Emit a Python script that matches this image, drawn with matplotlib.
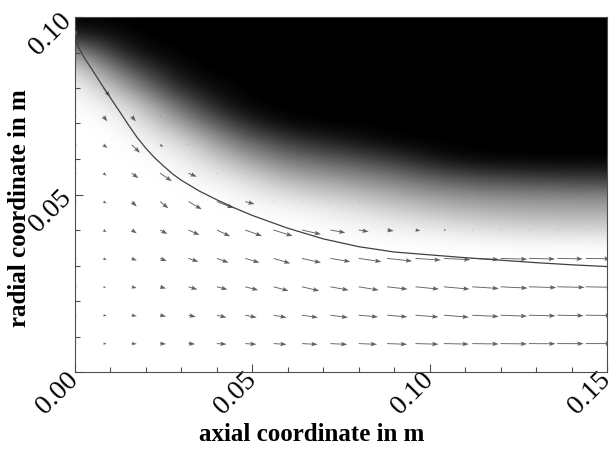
import matplotlib
matplotlib.use("agg")
import matplotlib.pyplot as plt
import numpy as np

nan = np.nan

# shading table: darkness (0 = white, 1 = black) sampled on a regular grid
shade_x = [0.0, 0.015, 0.03, 0.045, 0.06, 0.075, 0.09, 0.105, 0.12, 0.135, 0.15]
shade_y = [0.0, 0.005, 0.01, 0.015, 0.02, 0.025, 0.03, 0.035, 0.04, 0.045, 0.05,
           0.055, 0.06, 0.065, 0.07, 0.075, 0.08, 0.085, 0.09, 0.095, 0.1]
shade = [
    [0] * 11,  # 0.000
    [0] * 11,  # 0.005
    [0] * 11,  # 0.010
    [0] * 11,  # 0.015
    [0] * 11,  # 0.020
    [0] * 11,  # 0.025
    [0] * 11,  # 0.030
    [0] * 11,  # 0.035
    [0, 0, 0, 0, 0, 0.02, 0.04, 0.08, 0.13, 0.15, 0.16],          # 0.040
    [0, 0, 0, 0, 0.02, 0.07, 0.16, 0.25, 0.30, 0.32, 0.32],       # 0.045
    [0, 0, 0, 0.02, 0.13, 0.23, 0.33, 0.43, 0.47, 0.48, 0.49],    # 0.050
    [0, 0, 0, 0.10, 0.33, 0.42, 0.53, 0.68, 0.75, 0.79, 0.80],    # 0.055
    [0, 0, 0.03, 0.30, 0.55, 0.65, 0.79, 0.97, 1, 1, 1],          # 0.060
    [0, 0, 0.12, 0.53, 0.78, 0.90, 1, 1, 1, 1, 1],                # 0.065
    [0, 0.02, 0.35, 0.79, 1, 1, 1, 1, 1, 1, 1],                   # 0.070
    [0, 0.10, 0.61, 1, 1, 1, 1, 1, 1, 1, 1],                      # 0.075
    [0, 0.35, 0.89, 1, 1, 1, 1, 1, 1, 1, 1],                      # 0.080
    [0.08, 0.65, 1, 1, 1, 1, 1, 1, 1, 1, 1],                      # 0.085
    [0.35, 0.95, 1, 1, 1, 1, 1, 1, 1, 1, 1],                      # 0.090
    [0.85, 1, 1, 1, 1, 1, 1, 1, 1, 1, 1],                         # 0.095
    [1, 1, 1, 1, 1, 1, 1, 1, 1, 1, 1],                            # 0.100
]

# free surface line
surface_x = [0.0, 0.001, 0.0025, 0.005, 0.0075, 0.010, 0.0125, 0.015, 0.0175,
             0.020, 0.0225, 0.025, 0.0275, 0.030, 0.035, 0.040, 0.045, 0.050,
             0.060, 0.070, 0.080, 0.090, 0.100, 0.110, 0.120, 0.130, 0.140, 0.150]
surface_y = [0.0935, 0.0915, 0.0887, 0.0849, 0.0810, 0.0772, 0.0735, 0.0697,
             0.0661, 0.0630, 0.0603, 0.0580, 0.0558, 0.0540, 0.0510, 0.0485,
             0.0462, 0.0441, 0.0405, 0.0375, 0.0353, 0.0338, 0.0330, 0.0322,
             0.0315, 0.0308, 0.0302, 0.0297]

# velocity arrows (arbitrary units), rows = radial positions, cols = axial
vel_x = [0.0, 0.008, 0.016, 0.024, 0.032, 0.040, 0.048, 0.056, 0.064, 0.072,
         0.080, 0.088, 0.096, 0.104, 0.112, 0.120, 0.128, 0.136, 0.144]
vel_y = [0.008, 0.016, 0.024, 0.032, 0.040, 0.048, 0.056, 0.064, 0.072, 0.080,
         0.088, 0.096]
vel_u = [
    [2, 3.3, 5, 6, 6.7, 9.7, 11.3, 13, 15.7, 17, 18.3, 20, 23, 25, 26.5, 26.5, 26.5, 26.3, 26],
    [2, 3.3, 5, 6, 7.3, 9.7, 11.5, 13, 16, 17.7, 19.3, 20.3, 23, 25, 26.5, 26.5, 26.5, 26.3, 26],
    [2, 2.7, 5, 6, 9, 10.7, 13, 15, 17.3, 18.3, 20, 20.5, 23.5, 25.7, 26.7, 27, 27.3, 27.3, 27],
    [2, 3.3, 5, 6.7, 10, 11.7, 14.3, 16.7, 19, 20, 22.7, 25, 25.3, 26.5, 26.7, 26.7, 26, 25.5, 25],
    [2, 3.3, 5, 7.3, 11, 13.3, 16.7, 19, 19, 15, 10, 6.7, 5, 2.5, 1, 1, 1, 1, 1],
    [2, 3.3, 5, 8.3, 13.3, 16.7, 9.3, 1, 1, 1, 1, nan, nan, nan, nan, nan, nan, nan, nan],
    [2, 3.3, 6.7, 11.7, 8.3, 1, 1, nan, nan, nan, nan, nan, nan, nan, nan, nan, nan, nan, nan],
    [2, 4, 8.3, 3.3, 1, nan, nan, nan, nan, nan, nan, nan, nan, nan, nan, nan, nan, nan, nan],
    [2, 4, 4, 1, nan, nan, nan, nan, nan, nan, nan, nan, nan, nan, nan, nan, nan, nan, nan],
    [2, 7, 1, nan, nan, nan, nan, nan, nan, nan, nan, nan, nan, nan, nan, nan, nan, nan, nan],
    [2, 1, nan, nan, nan, nan, nan, nan, nan, nan, nan, nan, nan, nan, nan, nan, nan, nan, nan],
    [1.5, nan, nan, nan, nan, nan, nan, nan, nan, nan, nan, nan, nan, nan, nan, nan, nan, nan, nan],
]
vel_v = [
    [0, -0.3, -0.3, -0.4, -0.5, -0.6, -0.7, -0.8, -0.8, -0.8, -0.7, -0.7, -0.6, -0.5, -0.4, -0.3, -0.2, -0.1, 0],
    [0, -0.7, -1, -1.2, -1.7, -2.3, -2.3, -2.3, -2.3, -2.3, -1.7, -1.7, -1.8, -2, -1.3, -1, -0.7, -0.5, -0.3],
    [0, -1, -1.3, -1.7, -2.7, -2.7, -3.3, -4, -4, -3.3, -3.3, -2.3, -2.3, -2.3, -1.7, -1.3, -0.8, -0.6, -0.5],
    [0, -1.7, -2.3, -2.7, -3.3, -4.3, -4.3, -5, -4.3, -3.3, -3.3, -2.7, -1.7, -1.3, -1, -0.8, -0.6, -0.5, -0.4],
    [0, -2.3, -3.3, -4, -5, -6.3, -6, -6, -4.3, -2.7, -1.7, -1, -0.7, -0.3, 0, 0, 0, 0, 0],
    [0, -1.7, -5, -6.7, -7.7, -6.5, -2.5, -0.3, 0, 0, 0, nan, nan, nan, nan, nan, nan, nan, nan],
    [0, -2.5, -5, -8, -3.5, -0.3, 0, nan, nan, nan, nan, nan, nan, nan, nan, nan, nan, nan, nan],
    [0, -3.3, -8, -2, 0, nan, nan, nan, nan, nan, nan, nan, nan, nan, nan, nan, nan, nan, nan],
    [0, -5, -5, -0.5, nan, nan, nan, nan, nan, nan, nan, nan, nan, nan, nan, nan, nan, nan, nan],
    [0, -9, -0.5, nan, nan, nan, nan, nan, nan, nan, nan, nan, nan, nan, nan, nan, nan, nan, nan],
    [0, -0.5, nan, nan, nan, nan, nan, nan, nan, nan, nan, nan, nan, nan, nan, nan, nan, nan, nan],
    [-5, nan, nan, nan, nan, nan, nan, nan, nan, nan, nan, nan, nan, nan, nan, nan, nan, nan, nan],
]

x_ticks = [0.0, 0.05, 0.10, 0.15]
y_ticks = [0.05, 0.10]   # 0.00 is shared with the axial axis

plt.rcParams["font.family"] = ["Liberation Serif", "DejaVu Serif"]

fig = plt.figure(figsize=(6.1, 4.5), dpi=100)
ax = fig.add_axes([75 / 610, 78 / 450, 532 / 610, 355 / 450])

dx = shade_x[1] - shade_x[0]
dy = shade_y[1] - shade_y[0]
ax.imshow(np.array(shade), origin="lower", cmap="gray_r", vmin=0, vmax=1,
          interpolation="bicubic", aspect="auto",
          extent=[shade_x[0] - dx / 2, shade_x[-1] + dx / 2,
                  shade_y[0] - dy / 2, shade_y[-1] + dy / 2])

X, Y = np.meshgrid(vel_x, vel_y)
U = np.ma.masked_invalid(np.array(vel_u, dtype=float))
V = np.ma.masked_invalid(np.array(vel_v, dtype=float))
ax.quiver(X, Y, U, V, angles="xy", scale_units="xy", scale=532 / 0.15,
          color="0.38", width=0.0017, headwidth=5, headlength=7,
          headaxislength=6, zorder=3)

ax.plot(surface_x, surface_y, color="0.25", lw=0.9, zorder=4)

ax.set_xlim(0, 0.15)
ax.set_ylim(0, 0.1)
ax.set_xticks(x_ticks)
ax.set_yticks([0.0] + y_ticks)
ax.set_xticks(np.arange(0, 0.151, 0.01), minor=True)
ax.set_yticks(np.arange(0, 0.101, 0.01), minor=True)
ax.set_xticklabels(["%.2f" % t for t in x_ticks])
ax.set_yticklabels([""] + ["%.2f" % t for t in y_ticks])
ax.tick_params(which="both", direction="in", top=False, right=False,
               color="0.3", width=0.8)
ax.tick_params(which="major", length=6, labelsize=20)
ax.tick_params(axis="x", which="major", pad=3)
ax.tick_params(axis="y", which="major", pad=5)
ax.tick_params(which="minor", length=3.5)
for lab in ax.get_xticklabels() + ax.get_yticklabels():
    lab.set_rotation(45)
    lab.set_ha("right")
    lab.set_va("center")
    lab.set_rotation_mode("anchor")
for sp in ax.spines.values():
    sp.set_color("0.3")
    sp.set_linewidth(0.8)

ax.set_xlabel("axial coordinate in m", fontsize=18, fontweight="bold")
ax.set_ylabel("radial coordinate in m", fontsize=18, fontweight="bold")
ax.xaxis.set_label_coords(0.444, -0.145)
ax.yaxis.set_label_coords(-0.083, 0.462)

fig.savefig("out.png", dpi=100, facecolor="white")
